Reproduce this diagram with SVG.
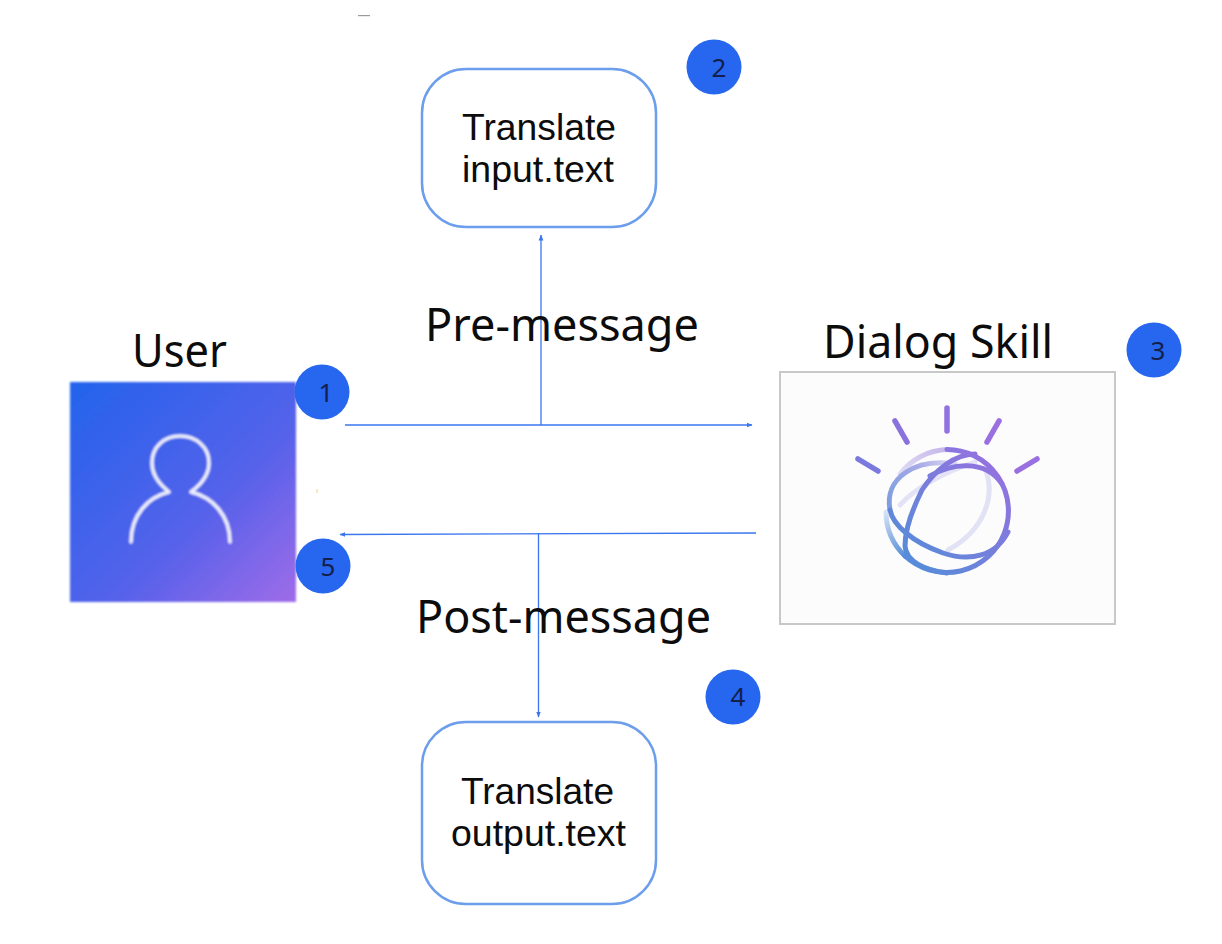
<svg xmlns="http://www.w3.org/2000/svg" width="1222" height="944" viewBox="0 0 1222 944">
<style>
.lbl{font-family:"Noto Sans","Open Sans",sans-serif;fill:#0c0c0c;font-size:45px}
.box{fill:#fff;stroke:#6d9eeb;stroke-width:2.5}
.tr{font-family:"Liberation Sans",Arial,sans-serif;fill:#0c0c0c;font-size:36.5px}
.badge{fill:#2766ee}
.num{font-family:"Noto Sans","Open Sans",sans-serif;fill:#14204a;font-size:26px;text-anchor:middle}
.conn{fill:none;stroke:#3a76ee;stroke-width:1.3}
.ray{stroke-width:5.5;stroke-linecap:round;fill:none}
.arc{fill:none;stroke-width:5;stroke-linecap:round}
</style>
<defs>
<linearGradient id="ug" x1="0" y1="0" x2="1" y2="1">
<stop offset="0" stop-color="#2363ec"/><stop offset="0.6" stop-color="#5662ea"/><stop offset="1" stop-color="#9f6ce8"/>
</linearGradient>
<linearGradient id="gl" gradientUnits="userSpaceOnUse" x1="895" y1="570" x2="1005" y2="455">
<stop offset="0" stop-color="#4f8fd8"/><stop offset="1" stop-color="#9a6fe0"/>
</linearGradient>
<linearGradient id="fadeTop" gradientUnits="userSpaceOnUse" x1="898" y1="480" x2="960" y2="450">
<stop offset="0" stop-color="#e2def5"/><stop offset="1" stop-color="#bfaee8"/>
</linearGradient>
<linearGradient id="fadeD" gradientUnits="userSpaceOnUse" x1="888" y1="500" x2="950" y2="462">
<stop offset="0" stop-color="#7f9fe0"/><stop offset="0.6" stop-color="#a6aae6"/><stop offset="1" stop-color="#d6d2f2"/>
</linearGradient>
<linearGradient id="fadeL" gradientUnits="userSpaceOnUse" x1="886" y1="505" x2="905" y2="555">
<stop offset="0" stop-color="#e6eefa"/><stop offset="1" stop-color="#5a8fd8"/>
</linearGradient>
<filter id="soft" x="-5%" y="-5%" width="110%" height="110%"><feGaussianBlur stdDeviation="0.8"/></filter>
<filter id="soft2" x="-10%" y="-10%" width="120%" height="120%"><feGaussianBlur stdDeviation="0.7"/></filter>
<marker id="ah" viewBox="0 0 6 6" refX="5.5" refY="3" markerWidth="6" markerHeight="6" markerUnits="userSpaceOnUse" orient="auto">
<path d="M0 0.6L6 3L0 5.4Z" fill="#3a76ee"/>
</marker>
</defs>
<rect width="1222" height="944" fill="#fff"/>
<rect x="358" y="15" width="12" height="1.2" fill="#9a9a9a"/>
<rect x="316" y="489" width="2" height="4" fill="#fbe6c4"/>

<g id="connectors">
<path class="conn" d="M345 425H752" marker-end="url(#ah)"/>
<path class="conn" d="M541 425V235" marker-end="url(#ah)"/>
<path class="conn" d="M756 533L340 534.5" marker-end="url(#ah)"/>
<path class="conn" d="M538.5 533V717" marker-end="url(#ah)"/>
</g>

<g id="user">
<g filter="url(#soft)">
<rect x="70" y="382" width="226" height="220" fill="url(#ug)"/>
<path d="M131 542C131 515 148 497 169 492C162 486 152 477 152 463C152 447 164 436 180 436C196 436 209 447 209 463C209 477 199 486 191 492C212 497 230 515 230 542" fill="none" stroke="#eceefb" stroke-width="3.6" stroke-linecap="round" stroke-linejoin="round"/>
</g>
<text class="lbl" x="132" y="367" textLength="95" lengthAdjust="spacingAndGlyphs">User</text>
</g>

<g id="dialog-skill">
<rect x="780" y="372" width="335" height="252" fill="#fcfcfd" stroke="#c8c8c8" stroke-width="2"/>
<g filter="url(#soft2)">
<path class="ray" stroke="#7a7ade" d="M858 459L878 471"/>
<path class="ray" stroke="#8a72dc" d="M895 421L907 442"/>
<path class="ray" stroke="#9272de" d="M947 408V431"/>
<path class="ray" stroke="#9a70e0" d="M999 421L987 442"/>
<path class="ray" stroke="#9a70e0" d="M1037 459L1017 471"/>
<path class="arc" stroke="#e4e2f6" d="M900 505C915 488 945 472 975 462"/>
<path class="arc" stroke="#e2e2f5" d="M985 468C996 495 985 530 948 550"/>
<path class="arc" stroke="url(#fadeTop)" d="M900 474A61.500 61.500 0 0 1 947 449.500"/>
<path class="arc" stroke="url(#fadeL)" d="M905 556A61.500 61.500 0 0 1 886 512"/>
<path class="arc" stroke="url(#fadeD)" d="M890 510C884 478 915 458 955 464"/>
<path class="arc" stroke="url(#gl)" d="M947 449.500A61.500 61.500 0 1 1 905 556"/>
<path class="arc" stroke="url(#gl)" d="M890 510C893 525 912 542 943 553C970 562 996 556 1008 532"/>
<path class="arc" stroke="url(#gl)" d="M975 454C955 454 935 470 922 490C912 510 905 530 905 546C906 562 925 570 947 573"/>
<path class="arc" stroke="url(#gl)" d="M930 476C950 464 985 458 1002 484"/>
</g>
<text class="lbl" x="823" y="358" textLength="230" lengthAdjust="spacingAndGlyphs">Dialog Skill</text>
</g>

<g id="translate-input">
<rect class="box" x="422" y="69" width="234" height="158" rx="44"/>
<text class="tr" x="462" y="140" textLength="154" lengthAdjust="spacingAndGlyphs">Translate</text>
<text class="tr" x="462" y="182" textLength="152" lengthAdjust="spacingAndGlyphs">input.text</text>
</g>

<g id="translate-output">
<rect class="box" x="422" y="722" width="234" height="182" rx="44"/>
<text class="tr" x="461" y="804" textLength="153" lengthAdjust="spacingAndGlyphs">Translate</text>
<text class="tr" x="451" y="846" textLength="175" lengthAdjust="spacingAndGlyphs">output.text</text>
</g>

<g id="label-pre"><text class="lbl" x="425" y="341" textLength="274" lengthAdjust="spacingAndGlyphs">Pre-message</text></g>
<g id="label-post"><text class="lbl" x="416" y="633" textLength="295" lengthAdjust="spacingAndGlyphs">Post-message</text></g>

<g id="badge-1"><circle class="badge" cx="322" cy="392" r="27.5"/><text class="num" x="326" y="402">1</text></g>
<g id="badge-2"><circle class="badge" cx="714" cy="67" r="27.5"/><text class="num" x="719" y="77">2</text></g>
<g id="badge-3"><circle class="badge" cx="1154" cy="350" r="27.5"/><text class="num" x="1158" y="360">3</text></g>
<g id="badge-4"><circle class="badge" cx="733" cy="697" r="27.5"/><text class="num" x="738" y="706">4</text></g>
<g id="badge-5"><circle class="badge" cx="323" cy="566" r="27.5"/><text class="num" x="328" y="576">5</text></g>
</svg>
